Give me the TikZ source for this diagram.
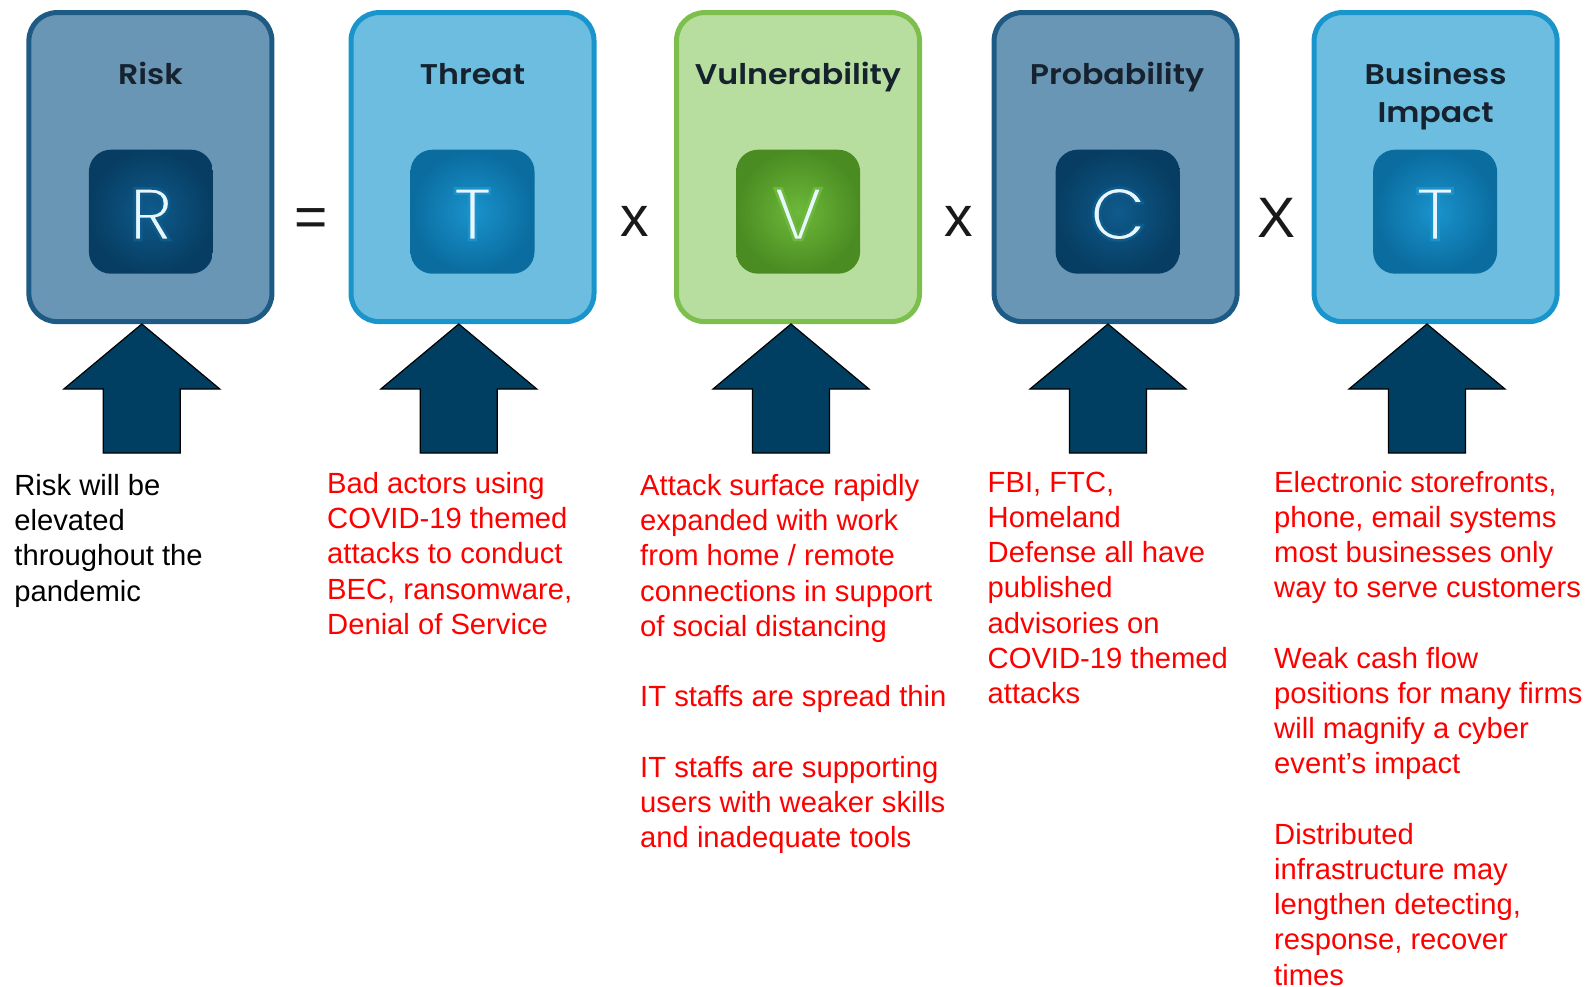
\documentclass[tikz,border=0pt]{standalone}
\usepackage{fontspec}
\setmainfont{Liberation Sans}
\newfontfamily\letterfont{Poppins}
\IfFontExistsTF{Poppins SemiBold}{\newfontfamily\titlefont{Poppins SemiBold}}{\newfontfamily\titlefont{Poppins}[UprightFont=*-Bold]}
\definecolor{riskfill}{HTML}{6A96B6}
\definecolor{riskline}{HTML}{1E5B84}
\definecolor{thrfill}{HTML}{6CBDDF}
\definecolor{thrline}{HTML}{1A95CC}
\definecolor{vulfill}{HTML}{B8DE9F}
\definecolor{vulline}{HTML}{7CBF4D}
\definecolor{darkin}{HTML}{0E5B8C}
\definecolor{darkout}{HTML}{073D62}
\definecolor{bluein}{HTML}{1A93CC}
\definecolor{blueout}{HTML}{0A6C9F}
\definecolor{greenin}{HTML}{6DB93A}
\definecolor{greenout}{HTML}{4A8C22}
\definecolor{arrowfill}{HTML}{003F62}
\definecolor{titlecol}{HTML}{16232F}
\definecolor{lettercol}{HTML}{E8F7FF}
\definecolor{redtext}{HTML}{FF0000}
% thin the letter strokes: fill and stroke with the icon colour
\newcommand{\thinletter}[2]{\special{pdf:literal direct 2 Tr 2.6 w #1 RG}#2\special{pdf:literal direct 0 Tr}}
\tikzset{
  bigbox/.style={draw, line width=5pt, rounded corners=28pt, minimum width=243pt, minimum height=309pt, inner sep=0pt},
  iconbox/.style={shade, shading=radial, rounded corners=22pt, minimum size=124pt, inner sep=0pt},
  titletext/.style={font=\titlefont\fontsize{28.5}{38}\selectfont, text=titlecol, inner sep=0pt, anchor=base, align=center, xscale=1.11},
  lettertext/.style={font=\letterfont\fontsize{74}{80}\selectfont, text=lettercol, inner sep=0pt, anchor=base},
  optext/.style={font=\fontsize{57}{60}\selectfont, text=black!90, inner sep=0pt, anchor=base},
  desc/.style={font=\fontsize{29.2}{35.2}\selectfont, inner sep=0pt, anchor=north west, align=left},
  uparrow/.style={fill=arrowfill, draw=black, line width=1.2pt, line join=miter}
}
\newcommand{\blockarrow}[1]{%
  \draw[uparrow] (#1) -- ++(78,65) -- ++(-39.5,0) -- ++(0,64) -- ++(-77,0) -- ++(0,-64) -- ++(-39.5,0) -- cycle;}
\begin{document}
\begin{tikzpicture}[x=1pt,y=-1pt]
\useasboundingbox (0,0) rectangle (1588,986);
% boxes
\node[bigbox, fill=riskfill, draw=riskline] (riskbox) at (150.4,167.1) {};
\node[bigbox, fill=thrfill, draw=thrline] (thrbox) at (472.5,167.1) {};
\node[bigbox, fill=vulfill, draw=vulline] (vulbox) at (798,167.1) {};
\node[bigbox, fill=riskfill, draw=riskline] (probbox) at (1115.6,167.1) {};
\node[bigbox, fill=thrfill, draw=thrline] (bizbox) at (1435.6,167.1) {};
% titles
\node[titletext] (risktitle) at (150.4,84) {Risk};
\node[titletext] (thrtitle) at (472.5,84) {Threat};
\node[titletext] (vultitle) at (798,84) {Vulnerability};
\node[titletext] (probtitle) at (1117,84) {Probability};
\node[titletext] (biztitle1) at (1435.6,84) {Business};
\node[titletext] (biztitle2) at (1435.6,122.5) {Impact};
% icons
\node[iconbox, inner color=darkin, outer color=darkout] (riskicon) at (150.9,211.7) {};
\node[iconbox, inner color=bluein, outer color=blueout] (thricon) at (472.5,211.7) {};
\node[iconbox, inner color=greenin, outer color=greenout] (vulicon) at (798.1,211.7) {};
\node[iconbox, inner color=darkin, outer color=darkout] (probicon) at (1117.6,211.7) {};
\node[iconbox, inner color=bluein, outer color=blueout] (bizicon) at (1435.1,211.7) {};
\node[lettertext] (rl) at (151.5,240) {\thinletter{0.055 0.357 0.549}{R}};
\node[lettertext] (tl) at (472.5,240) {\thinletter{0.102 0.576 0.8}{T}};
\node[lettertext] (vl) at (798.1,240) {\thinletter{0.427 0.725 0.227}{V}};
\node[lettertext] (cl) at (1118.6,240) {\thinletter{0.055 0.357 0.549}{C}};
\node[lettertext] (tl2) at (1435.1,240) {\thinletter{0.102 0.576 0.8}{T}};
% operators
\node[optext] (eq) at (311,236) {=};
\node[optext] (x1) at (635,236) {x};
\node[optext] (x2) at (959,236) {x};
\node[optext] (x3) at (1276,237) {X};
% arrows
\coordinate (a1) at (141.8,324);
\coordinate (a2) at (458.8,324);
\coordinate (a3) at (791,324);
\coordinate (a4) at (1108,324);
\coordinate (a5) at (1427,324);
\blockarrow{a1}
\blockarrow{a2}
\blockarrow{a3}
\blockarrow{a4}
\blockarrow{a5}
% descriptions
\node[desc, text=black] (riskdesc) at (14.2,470.6) {\strut Risk will be\\elevated\\throughout the\\pandemic};
\node[desc, text=redtext] (thrdesc) at (327,468.6) {\strut Bad actors using\\COVID-19 themed\\attacks to conduct\\BEC, ransomware,\\Denial of Service};
\node[desc, text=redtext] (vuldesc) at (640,470.6) {\strut Attack surface rapidly\\expanded with work\\from home / remote\\connections in support\\of social distancing\\[35.2pt]IT staffs are spread thin\\[35.2pt]IT staffs are supporting\\users with weaker skills\\and inadequate tools};
\node[desc, text=redtext] (probdesc) at (987.5,467.5) {\strut FBI, FTC,\\Homeland\\Defense all have\\published\\advisories on\\COVID-19 themed\\attacks};
\node[desc, text=redtext] (bizdesc) at (1274,467.5) {\strut Electronic storefronts,\\phone, email systems\\most businesses only\\way to serve customers\\[35.2pt]Weak cash flow\\positions for many firms\\will magnify a cyber\\event’s impact\\[35.2pt]Distributed\\infrastructure may\\lengthen detecting,\\response, recover\\times};
\end{tikzpicture}
\end{document}
